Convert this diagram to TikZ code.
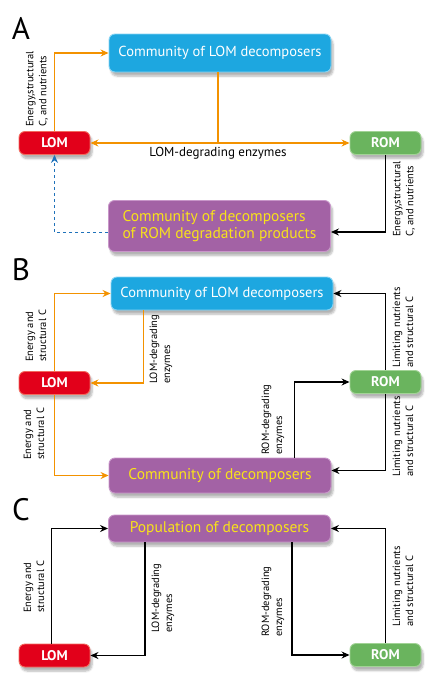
\documentclass[tikz,border=0pt]{standalone}
\usepackage{fontspec}
\setmainfont{PT Sans}
\usetikzlibrary{arrows.meta,shadows.blur}
\definecolor{LomRed}{HTML}{E2001A}
\definecolor{LomEdge}{HTML}{F26A5E}
\definecolor{RomGreen}{HTML}{6AB45E}
\definecolor{RomEdge}{HTML}{A2D396}
\definecolor{CommBlue}{HTML}{1DA7E0}
\definecolor{CommEdge}{HTML}{86D3F3}
\definecolor{DecPurple}{HTML}{A362A5}
\definecolor{DecEdge}{HTML}{C896C9}
\definecolor{DecText}{HTML}{F8E21A}
\definecolor{FlowOrange}{HTML}{F39200}
\definecolor{DashBlue}{HTML}{1F72BA}

\begin{document}
\begin{tikzpicture}[x=1pt,y=-1pt,
  every node/.style={font=\fontsize{10.5}{13}\selectfont},
  box/.style={rounded corners=6pt, line width=0.9pt, inner sep=0pt,
    blur shadow={shadow xshift=2pt, shadow yshift=-4pt, shadow blur steps=6, shadow opacity=30}},
  pool/.style={box, minimum width=71pt, minimum height=23pt,
    font=\fontsize{14}{16}\selectfont\bfseries, text=white},
  commbox/.style={box, fill=CommBlue, draw=CommEdge, minimum width=222pt,
    font=\fontsize{14.5}{17}\selectfont, text=white},
  decbox/.style={box, fill=DecPurple, draw=DecEdge, minimum width=222pt,
    font=\fontsize{15.5}{17}\selectfont, text=DecText},
  flow/.style={line width=1.2pt, -{Stealth[length=8pt,width=7pt]}},
  vlabel/.style={rotate=90, anchor=west, align=left, inner sep=0pt},
  panel/.style={font=\fontsize{31}{31}\selectfont}]
  \useasboundingbox (0,0) rectangle (426,673);

  % A
  \node[panel] (labA) at (21,28) {A};
  \node[commbox, minimum height=38pt] (commA) at (220,53) {Community of LOM decomposers};
  \node[pool, fill=LomRed, draw=LomEdge] (lomA) at (54.5,143) {LOM};
  \node[pool, fill=RomGreen, draw=RomEdge] (romA) at (385.5,143) {ROM};
  \node[decbox, minimum height=51pt, align=left] (decA) at (219.5,226)
    {Community of decomposers\\of ROM degradation products};
  \draw[flow, FlowOrange] (lomA.north) |- (commA.west);
  \draw[line width=1.2pt, FlowOrange] ([xshift=-2pt]commA.south) -- ([xshift=-2pt]commA.south |- lomA.east);
  \draw[flow, FlowOrange, {Stealth[length=8pt,width=7pt]}-{Stealth[length=8pt,width=7pt]}] (lomA.east) -- (romA.west);
  \draw[flow, black] (romA.south) |- ([yshift=-6pt]decA.east);
  \draw[flow, DashBlue, line width=0.9pt, dashed] ([yshift=-6pt]decA.west) -| (lomA.south);
  \node[font=\fontsize{13}{15}\selectfont] (enzA) at (218,153) {LOM-degrading enzymes};
  \node[vlabel] (enA) at (37,127) {Energy,structural\\C, and nutrients};
  \node[vlabel] (enA2) at (404,237) {Energy,structural\\C, and nutrients};

  % B
  \node[panel] (labB) at (21,270) {B};
  \node[commbox, minimum height=33pt] (commB) at (222,293.5) {Community of LOM decomposers};
  \node[pool, fill=LomRed, draw=LomEdge] (lomB) at (54.5,383) {LOM};
  \node[pool, fill=RomGreen, draw=RomEdge] (romB) at (385.5,382) {ROM};
  \node[decbox, minimum height=35pt] (decB) at (220,475.5) {Community of decomposers};
  \draw[flow, FlowOrange] (lomB.north) |- (commB.west);
  \draw[flow, FlowOrange] ([xshift=33pt]commB.south west) |- (lomB.east);
  \draw[flow, black] (romB.north) |- (commB.east);
  \draw[flow, FlowOrange] (lomB.south) |- (decB.west);
  \draw[flow, black] ([xshift=-37pt]decB.north east) |- (romB.west);
  \draw[flow, black] (romB.south) |- ([yshift=5pt]decB.east);
  \node[vlabel] (enB1) at (36,362) {Energy and\\structural C};
  \node[vlabel] (lenzB) at (161,384) {LOM-degrading\\enzymes};
  \node[vlabel] (limB1) at (403,368) {Limiting nutrients\\and structural C};
  \node[vlabel] (enB2) at (34,460) {Energy and\\structural C};
  \node[vlabel] (renzB) at (273,455) {ROM-degrading\\enzymes};
  \node[vlabel] (limB2) at (403,477) {Limiting nutrients\\and structural C};

  % C
  \node[panel] (labC) at (21,510) {C};
  \node[decbox, minimum height=27pt] (decC) at (219.5,528.5) {Population of decomposers};
  \node[pool, fill=LomRed, draw=LomEdge] (lomC) at (54.5,655.5) {LOM};
  \node[pool, fill=RomGreen, draw=RomEdge] (romC) at (385.5,655) {ROM};
  \draw[flow, black] ([xshift=-3pt]lomC.north) |- (decC.west);
  \draw[flow, black] ([xshift=37pt]decC.south west) |- (lomC.east);
  \draw[flow, black] ([xshift=-39pt]decC.south east) |- (romC.west);
  \draw[flow, black] (romC.north) |- (decC.east);
  \node[vlabel] (enC) at (34,613) {Energy and\\structural C};
  \node[vlabel] (lenzC) at (163,633) {LOM-degrading\\enzymes};
  \node[vlabel] (renzC) at (273,637) {ROM-degrading\\enzymes};
  \node[vlabel] (limC) at (403,627) {Limiting nutrients\\and structural C};
\end{tikzpicture}
\end{document}
